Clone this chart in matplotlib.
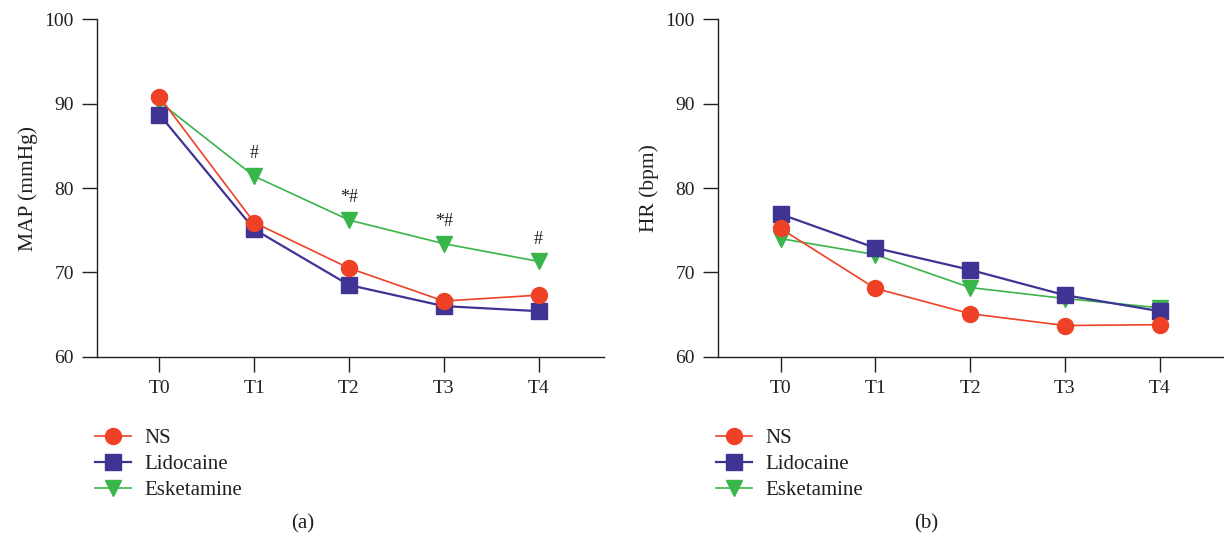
import matplotlib.pyplot as plt

# Values
TIMES = ["T0", "T1", "T2", "T3", "T4"]

MAP_NS = [90.8, 75.9, 70.5, 66.6, 67.3]
MAP_LIDO = [88.7, 75.1, 68.5, 66.0, 65.4]
MAP_ESK = [90.2, 81.4, 76.2, 73.4, 71.3]
MAP_MARKS = ["", "#", "*#", "*#", "#"]

HR_NS = [75.2, 68.1, 65.1, 63.7, 63.8]
HR_LIDO = [76.9, 72.9, 70.3, 67.3, 65.4]
HR_ESK = [74.0, 72.1, 68.2, 66.9, 65.8]

RED = "#ee4126"
BLUE = "#3f3394"
GREEN = "#39b54a"
TEXT = "#231f20"

plt.rcParams.update({
    "font.family": ["Liberation Serif", "DejaVu Serif"],
    "font.size": 14,
    "text.color": TEXT,
    "axes.edgecolor": TEXT,
    "axes.labelcolor": TEXT,
    "xtick.color": TEXT,
    "ytick.color": TEXT,
    "axes.spines.top": False,
    "axes.spines.right": False,
})


def panel(ax, ns, lido, esk, ylabel):
    x = range(len(TIMES))
    ax.plot(x, esk, color=GREEN, lw=1.2, marker="v", ms=12, label="Esketamine", zorder=3)
    ax.plot(x, lido, color=BLUE, lw=1.6, marker="s", ms=11, label="Lidocaine", zorder=4)
    ax.plot(x, ns, color=RED, lw=1.2, marker="o", ms=11.5, label="NS", zorder=5)
    ax.set_xlim(-0.66, 4.69)
    ax.set_ylim(60, 100)
    ax.set_yticks([60, 70, 80, 90, 100])
    ax.set_xticks(list(x))
    ax.set_xticklabels(TIMES)
    ax.tick_params(axis="both", length=10.5, width=1, labelsize=14, pad=6)
    ax.set_ylabel(ylabel, fontsize=15.5, labelpad=5)
    for s in ("left", "bottom"):
        ax.spines[s].set_linewidth(1)
    h, l = ax.get_legend_handles_labels()
    return h[::-1], l[::-1]


def legend(fig, h, l, x):
    fig.legend(h, l, loc="upper left", bbox_to_anchor=(x, 0.206),
               frameon=False, borderpad=0, borderaxespad=0, handlelength=1.75,
               handletextpad=0.6, labelspacing=0.3, fontsize=15)


fig = plt.figure(figsize=(12.24, 5.4), dpi=100)
ax1 = fig.add_axes([0.0792, 0.3394, 0.4142, 0.6249])
ax2 = fig.add_axes([0.5866, 0.3394, 0.4142, 0.6249])

h, l = panel(ax1, MAP_NS, MAP_LIDO, MAP_ESK, "MAP (mmHg)")
for i, m in enumerate(MAP_MARKS):
    if m:
        ax1.annotate(m, (i, MAP_ESK[i]), xytext=(0, 10), textcoords="offset points",
                     ha="center", va="bottom", fontsize=13)
legend(fig, h, l, 0.0776)

h, l = panel(ax2, HR_NS, HR_LIDO, HR_ESK, "HR (bpm)")
legend(fig, h, l, 0.585)

fig.text(0.247, 0.022, "(a)", ha="center", fontsize=15)
fig.text(0.757, 0.022, "(b)", ha="center", fontsize=15)

fig.savefig("out.png", dpi=100)
